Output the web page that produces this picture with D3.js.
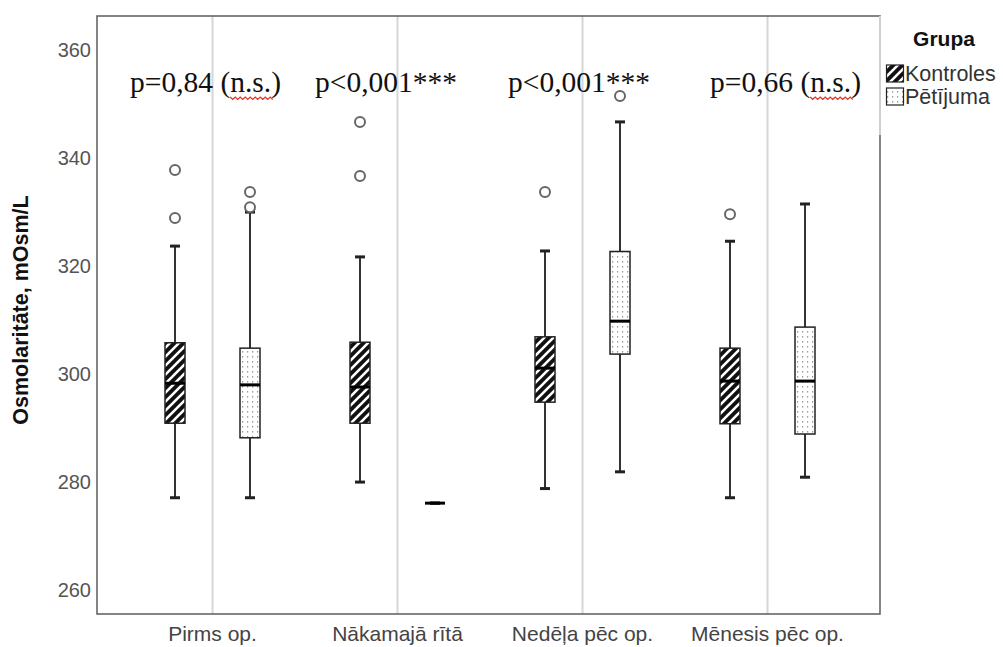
<!DOCTYPE html>
<html><head><meta charset="utf-8">
<script src="https://cdn.jsdelivr.net/npm/d3@7"></script>
<style>body{margin:0;background:#fff}svg{display:block}</style>
</head><body>
<svg id="c" width="1003" height="647"></svg>
<script>
// ---- data ----
const categories = ["Pirms op.", "Nākamajā rītā", "Nedēļa pēc op.", "Mēnesis pēc op."];
const groups = ["Kontroles", "Pētījuma"];
// [whiskerLow, Q1, median, Q3, whiskerHigh]
const kontrolesStats = [
  [276.9, 290.7, 298.1, 305.6, 323.5],
  [279.8, 290.7, 297.4, 305.7, 321.5],
  [278.6, 294.6, 300.9, 306.7, 322.6],
  [276.9, 290.6, 298.5, 304.6, 324.4]
];
const petijumaStats = [
  [276.9, 288.0, 297.8, 304.6, 329.8],
  [275.9, 275.9, 275.9, 275.9, 275.9],
  [281.7, 303.5, 309.6, 322.5, 346.5],
  [280.7, 288.7, 298.5, 308.5, 331.3]
];
const kontrolesOutliers = [[337.6, 328.7], [346.5, 336.5], [333.5], [329.4]];
const petijumaOutliers = [[333.5, 330.7], [], [351.3], []];
const pLabels = [["p=0,84 (", "n.s.", ")"], ["p<0,001***", "", ""], ["p<0,001***", "", ""], ["p=0,66 (", "n.s.", ")"]];
const yTicks = [260, 280, 300, 320, 340, 360];

// ---- layout ----
const svg = d3.select("#c");
const frame = {l: 97, t: 16, r: 880, b: 614};
const x = d3.scaleBand().domain(categories).range([120, 860]).padding(0);
const xg = d3.scalePoint().domain(groups).range([-37.5, 37.5]);
const y = d3.scaleLinear().domain([255.37, 366.11]).range([frame.b, frame.t]);
const boxW = 20, capW = 10;
const pOffsets = [-82.5, -82.5, -74.5, -57.5];

const defs = svg.append("defs");
const hp = defs.append("pattern").attr("id", "hatch").attr("patternUnits", "userSpaceOnUse")
  .attr("width", 9).attr("height", 9);
hp.append("rect").attr("width", 9).attr("height", 9).attr("fill", "#111");
hp.append("path").attr("d", "M-2,11 L11,-2 M-2,2 L2,-2 M7,11 L11,7")
  .attr("stroke", "#fff").attr("stroke-width", 2.6);
const dp = defs.append("pattern").attr("id", "dots").attr("patternUnits", "userSpaceOnUse")
  .attr("width", 5).attr("height", 5);
dp.append("rect").attr("width", 5).attr("height", 5).attr("fill", "#fff");
dp.append("rect").attr("x", 2).attr("y", 1).attr("width", 1.2).attr("height", 1.6).attr("fill", "#9a9a9a");

// frame background
svg.append("rect").attr("x", frame.l).attr("y", frame.t).attr("width", frame.r - frame.l)
  .attr("height", frame.b - frame.t).attr("fill", "#fff");

// vertical category lines
svg.append("g").selectAll("line").data(categories).join("line")
  .attr("x1", d => x(d) + x.bandwidth() / 2).attr("x2", d => x(d) + x.bandwidth() / 2)
  .attr("y1", frame.t).attr("y2", frame.b).attr("stroke", "#d6d6d6").attr("stroke-width", 2);

// frame border
svg.append("rect").attr("x", frame.l).attr("y", frame.t).attr("width", frame.r - frame.l)
  .attr("height", frame.b - frame.t).attr("fill", "none").attr("stroke", "#666").attr("stroke-width", 1.6);
svg.append("line").attr("x1", frame.r).attr("x2", frame.r).attr("y1", frame.t).attr("y2", 135)
  .attr("stroke", "#cfcfcf").attr("stroke-width", 2);

// y axis
const yAxis = svg.append("g").attr("transform", `translate(${frame.l},0)`)
  .call(d3.axisLeft(y).tickValues(yTicks).tickSize(0).tickPadding(6).tickFormat(d3.format("d")));
yAxis.select(".domain").remove();
yAxis.selectAll("text").attr("font-family", "Liberation Sans, Arial, sans-serif")
  .attr("font-size", 20).attr("fill", "#555").attr("dy", "0.36em");

// x labels
svg.append("g").selectAll("text").data(categories).join("text")
  .attr("x", d => x(d) + x.bandwidth() / 2).attr("y", 641).attr("text-anchor", "middle")
  .attr("font-family", "Liberation Sans, Arial, sans-serif").attr("font-size", 21).attr("fill", "#444")
  .text(d => d);

// y title
svg.append("text").attr("transform", "translate(28,310) rotate(-90)").attr("text-anchor", "middle")
  .attr("font-family", "Liberation Sans, Arial, sans-serif").attr("font-size", 21.5).attr("font-weight", "bold")
  .attr("fill", "#111").text("Osmolaritāte, mOsm/L");

// boxes
function drawBoxes(stats, outliers, group, fill) {
  const g = svg.append("g");
  stats.forEach((s, i) => {
    const cx = x(categories[i]) + x.bandwidth() / 2 + xg(group);
    const [lo, q1, med, q3, hi] = s;
    g.append("line").attr("x1", cx).attr("x2", cx).attr("y1", y(hi)).attr("y2", y(q3))
      .attr("stroke", "#333").attr("stroke-width", 2);
    g.append("line").attr("x1", cx).attr("x2", cx).attr("y1", y(q1)).attr("y2", y(lo))
      .attr("stroke", "#333").attr("stroke-width", 2);
    [lo, hi].forEach(v => g.append("line").attr("x1", cx - capW / 2).attr("x2", cx + capW / 2)
      .attr("y1", y(v)).attr("y2", y(v)).attr("stroke", "#222").attr("stroke-width", 3));
    g.append("rect").attr("x", cx - boxW / 2).attr("y", y(q3)).attr("width", boxW)
      .attr("height", Math.max(0, y(q1) - y(q3))).attr("fill", fill).attr("stroke", "#222").attr("stroke-width", 1.5);
    g.append("line").attr("x1", cx - boxW / 2).attr("x2", cx + boxW / 2).attr("y1", y(med)).attr("y2", y(med))
      .attr("stroke", "#000").attr("stroke-width", 3);
    g.selectAll(null).data(outliers[i]).join("circle").attr("cx", cx).attr("cy", d => y(d)).attr("r", 5)
      .attr("fill", "#fff").attr("stroke", "#666").attr("stroke-width", 2);
  });
}
drawBoxes(kontrolesStats, kontrolesOutliers, "Kontroles", "url(#hatch)");
drawBoxes(petijumaStats, petijumaOutliers, "Pētījuma", "url(#dots)");

// p-value annotations
pLabels.forEach((parts, i) => {
  const tx = x(categories[i]) + x.bandwidth() / 2 + pOffsets[i];
  const t = svg.append("text").attr("x", tx).attr("y", 92)
    .attr("font-family", "Liberation Serif, Times New Roman, serif").attr("font-size", 29.5).attr("fill", "#111");
  parts.forEach(p => { if (p) t.append("tspan").text(p); });
  if (parts[1]) {
    const node = t.node();
    const s = parts[0].length, n = parts[1].length;
    const x0 = node.getStartPositionOfChar(s).x;
    const x1 = node.getEndPositionOfChar(s + n - 1).x;
    let d = `M${x0},97`;
    for (let xx = x0, k = 0; xx < x1; xx += 2.5, k++) d += ` L${xx + 2.5},${k % 2 ? 97 : 99.5}`;
    svg.append("path").attr("d", d).attr("fill", "none").attr("stroke", "#e0301e").attr("stroke-width", 1.2);
  }
});

// legend
const lg = svg.append("g");
lg.append("text").attr("x", 944).attr("y", 46).attr("text-anchor", "middle")
  .attr("font-family", "Liberation Sans, Arial, sans-serif").attr("font-size", 21).attr("font-weight", "bold")
  .attr("fill", "#111").text("Grupa");
const legendFills = ["url(#hatch)", "url(#dots)"];
groups.forEach((gname, i) => {
  const yy = 65 + i * 23;
  lg.append("rect").attr("x", 886.5).attr("y", yy).attr("width", 17).attr("height", 17)
    .attr("fill", legendFills[i]).attr("stroke", "#222").attr("stroke-width", 1.2);
  lg.append("text").attr("x", 905).attr("y", yy + 15.5)
    .attr("font-family", "Liberation Sans, Arial, sans-serif").attr("font-size", 21.5).attr("fill", "#333")
    .text(gname);
});
</script>
</body></html>
